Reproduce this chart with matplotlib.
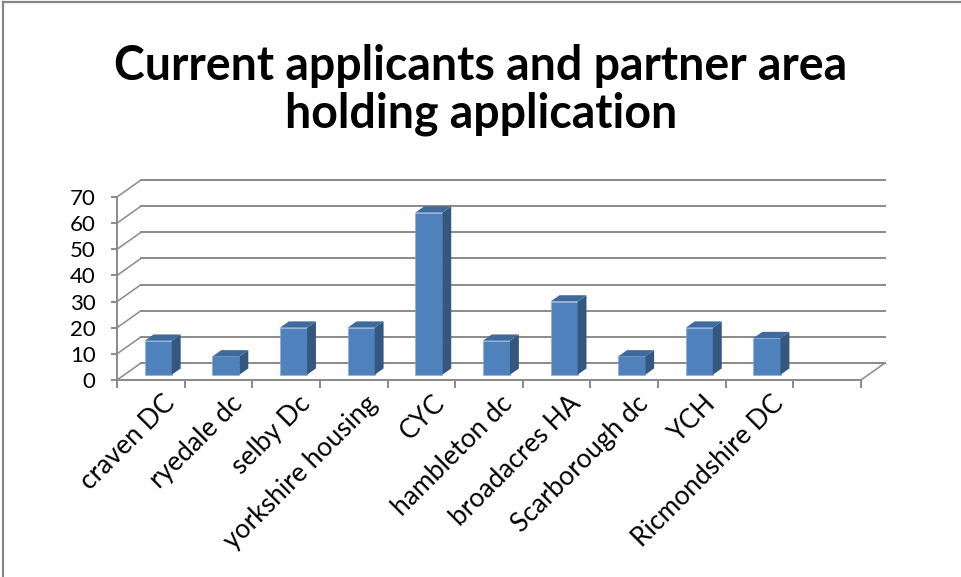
import matplotlib
matplotlib.use("Agg")
import matplotlib.pyplot as plt
import matplotlib.transforms as mtransforms
from matplotlib.patches import Polygon
from matplotlib.lines import Line2D

# ---------------- DATA ----------------
CATEGORIES = ["craven DC", "ryedale dc", "selby Dc", "yorkshire housing", "CYC",
              "hambleton dc", "broadacres HA", "Scarborough dc", "YCH",
              "Ricmondshire DC", ""]
VALUES = [13, 7, 18, 18, 62, 13, 28, 7, 18, 14, None]
Y_TICKS = [0, 10, 20, 30, 40, 50, 60, 70]
TITLE = "Current applicants and partner area\nholding application"
# --------------------------------------

FRONT = "#4F81BD"
SIDE = "#34577F"
TOP = "#3E6A9E"
GRID = "#8A8A8A"

DX, DY = 0.355, 6.5      # depth offset of the back wall (category units, value units)
F0, FD = 0.31, 0.37      # bar front depth fraction and bar depth fraction
BAR_W = 0.4

plt.rcParams["font.family"] = ["Lato", "DejaVu Sans"]

W, H = 962, 577
fig = plt.figure(figsize=(W / 100, H / 100), dpi=100)

n = len(CATEGORIES)
left, right = 117, 885
bottom, top = 380, 180
ax = fig.add_axes([left / W, 1 - bottom / H, (right - left) / W, (bottom - top) / H])
ax.set_xlim(0, n + DX)
ax.set_ylim(0, Y_TICKS[-1] + DY)
ax.patch.set_visible(False)

# back wall gridlines + left wall diagonals
for v in Y_TICKS:
    ax.plot([DX, n + DX], [v + DY, v + DY], color=GRID, lw=1.4, zorder=1, clip_on=False)
    ax.plot([0, DX], [v, v + DY], color=GRID, lw=1.1, zorder=1, clip_on=False)
# floor right edge
ax.plot([n, n + DX], [0, DY], color=GRID, lw=1.1, zorder=1, clip_on=False)

# bars with fake 3d faces
xs = [i + 0.5 + F0 * DX for i in range(n)]
for x, v in zip(xs, VALUES):
    if v is None:
        continue
    y0 = F0 * DY
    xl, xr = x - BAR_W / 2, x + BAR_W / 2
    ax.bar(x, v, width=BAR_W, bottom=y0, color=FRONT, edgecolor="#8CA9D4",
           linewidth=0.4, zorder=3)
    ddx, ddy = FD * DX, FD * DY
    ax.add_patch(Polygon([(xr, y0), (xr + ddx, y0 + ddy), (xr + ddx, y0 + v + ddy),
                          (xr, y0 + v)], closed=True, facecolor=SIDE, edgecolor="none",
                         zorder=3))
    ax.add_patch(Polygon([(xl, y0 + v), (xr, y0 + v), (xr + ddx, y0 + v + ddy),
                          (xl + ddx, y0 + v + ddy)], closed=True, facecolor=TOP,
                         edgecolor="none", zorder=3))

# axes
for s in ["top", "right"]:
    ax.spines[s].set_visible(False)
ax.spines["left"].set_bounds(0, Y_TICKS[-1])
ax.spines["bottom"].set_bounds(0, n)
for s in ["left", "bottom"]:
    ax.spines[s].set_color(GRID)
    ax.spines[s].set_linewidth(1.4)

ax.set_yticks(Y_TICKS)
ax.set_yticklabels([str(t) for t in Y_TICKS])
ax.tick_params(axis="y", direction="out", length=4.5, width=1.4, color=GRID,
               pad=11, labelsize=16)

ax.set_xticks(range(n + 1))
ax.set_xticklabels([""] * (n + 1))
ax.tick_params(axis="x", which="major", direction="out", length=5.5, width=1.4,
               color=GRID)
ax.set_xticks([i + 0.5 for i in range(n)], minor=True)
ax.set_xticklabels(CATEGORIES, minor=True, rotation=45, ha="right",
                   va="center", rotation_mode="anchor", fontsize=19)
ax.tick_params(axis="x", which="minor", length=0, pad=14)
shift = mtransforms.ScaledTranslation(20 / 100, 0, fig.dpi_scale_trans)
for lbl in ax.get_xticklabels(minor=True):
    lbl.set_transform(lbl.get_transform() + shift)

fig.text(0.5, 1 - 90 / H, TITLE, ha="center", va="center", fontsize=33.5,
         fontweight="bold", linespacing=1.1)

# chart frame (left and top edges)
fig.add_artist(Line2D([2.5 / W, 2.5 / W], [0, 1 - 1.5 / H], color="#868686", lw=1.6))
fig.add_artist(Line2D([2.5 / W, 1], [1 - 1.5 / H, 1 - 1.5 / H], color="#868686", lw=1.6))

fig.savefig("out.png", dpi=100)
